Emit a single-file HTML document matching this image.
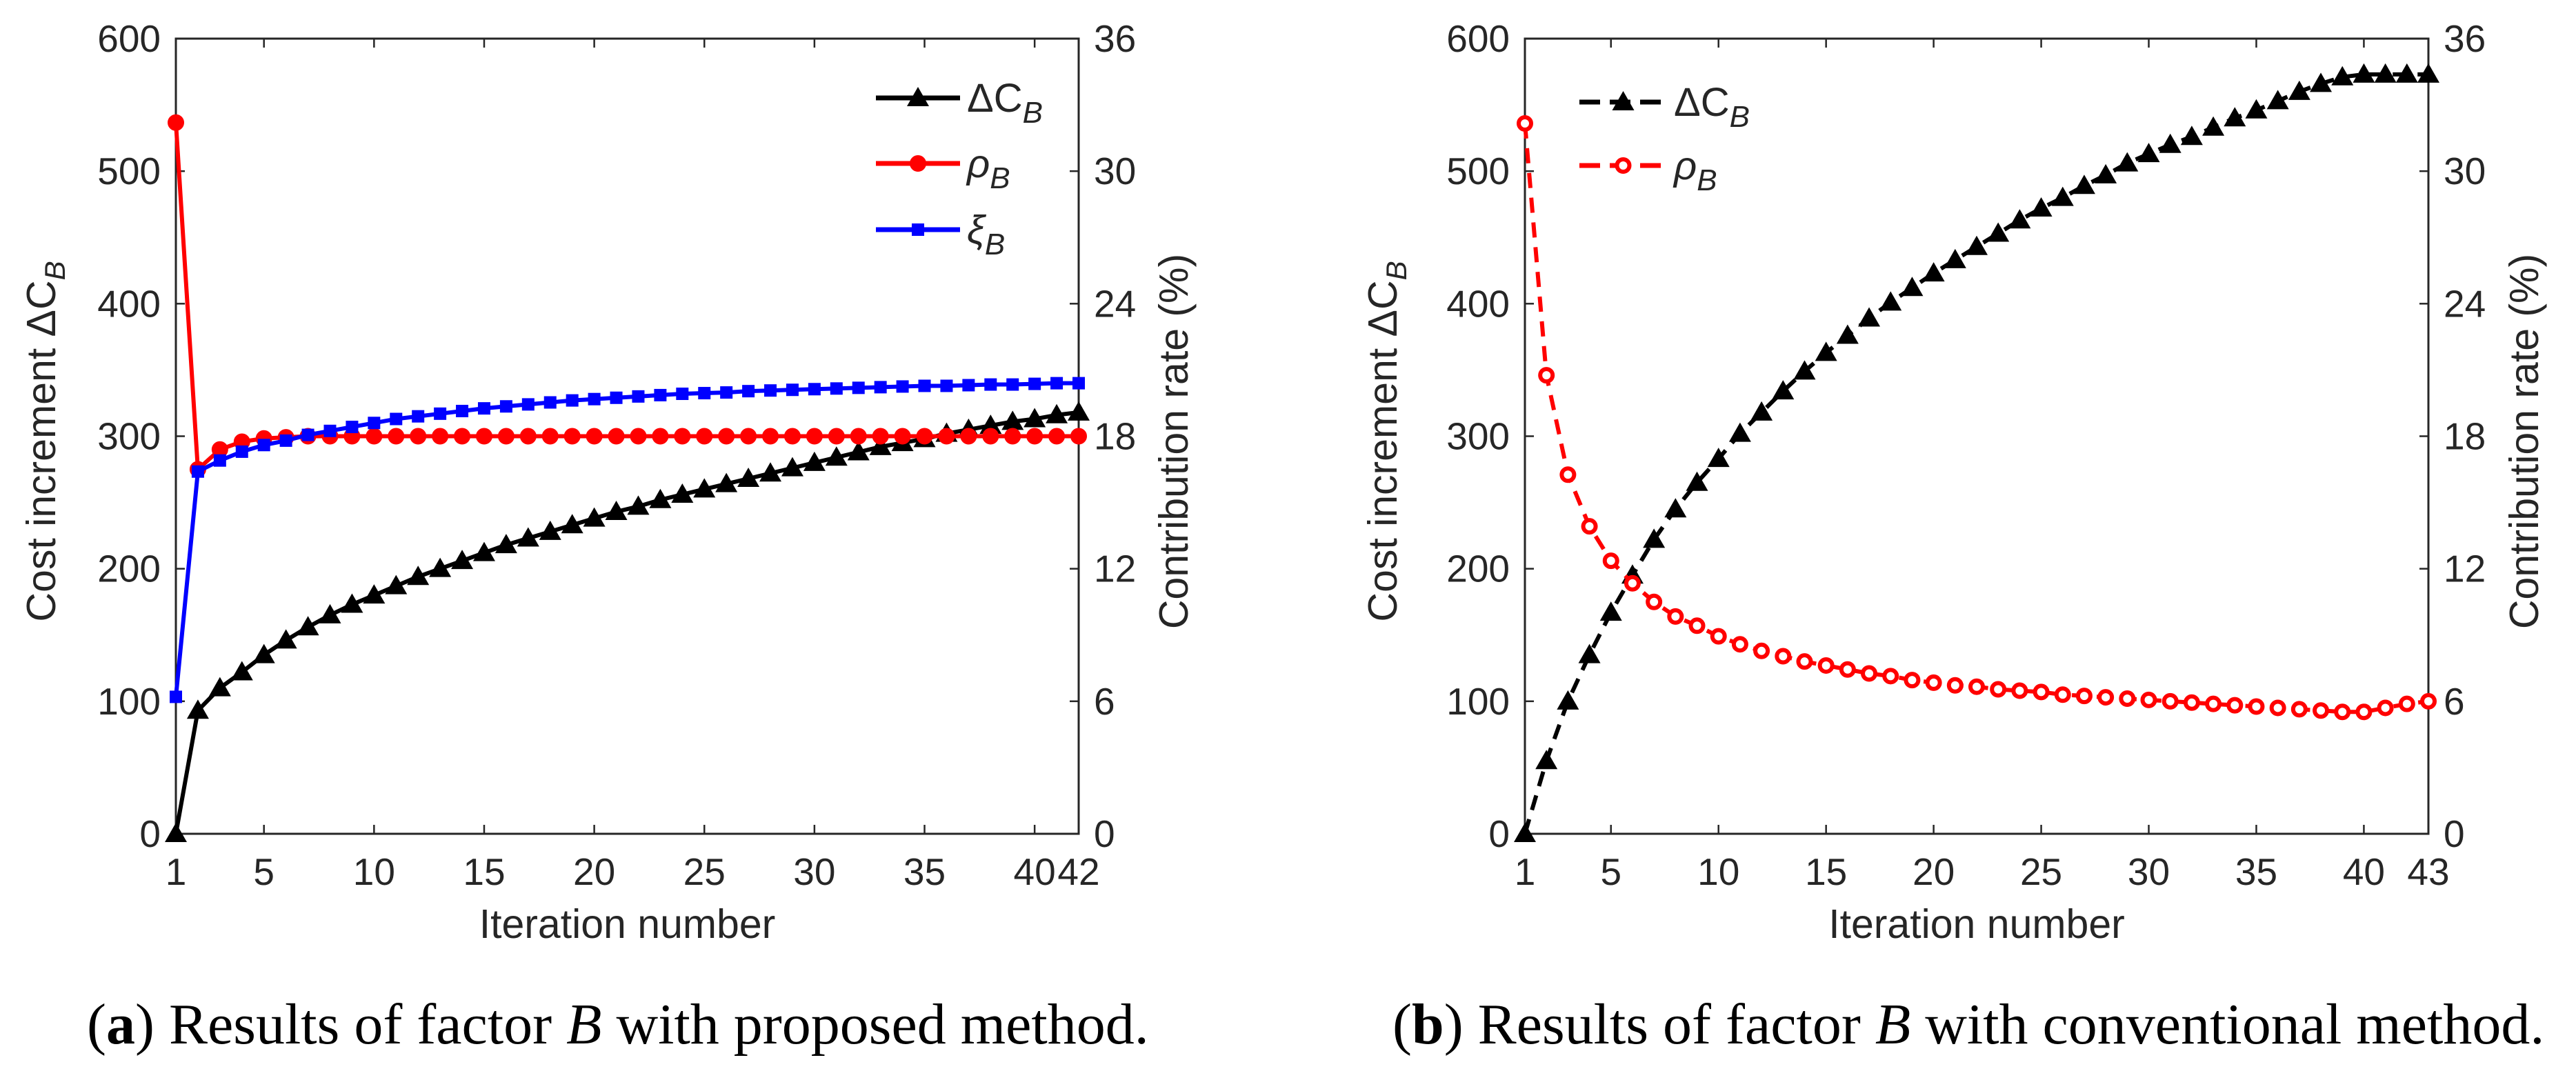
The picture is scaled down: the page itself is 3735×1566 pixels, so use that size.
<!DOCTYPE html>
<html><head><meta charset="utf-8">
<style>
html,body{margin:0;padding:0;background:#fff;}
svg text{font-family:"Liberation Sans",Arial,sans-serif;fill:#262626;}
.cap{font-family:"Liberation Serif","DejaVu Serif",serif;fill:#000;}
</style></head>
<body>
<svg id="fig" width="3735" height="1561" viewBox="0 0 3735 1561" xmlns="http://www.w3.org/2000/svg">
<text class="cap" x="126" y="1513" font-size="84">(<tspan font-weight="bold">a</tspan>) Results of factor <tspan font-style="italic">B</tspan> with proposed method.</text>
<text class="cap" x="2019" y="1513" font-size="84">(<tspan font-weight="bold">b</tspan>) Results of factor <tspan font-style="italic">B</tspan> with conventional method.</text>
</svg>
<script>
// ---- chart (a) data ----
const iterA = Array.from({length:42},(_,i)=>i+1);
const costA = [0,93,110,122,135,146,156,165,173,180,187,194,200,206,212,218,223,228,233,238,243,247,252,256,260,264,268,272,276,280,284,288,292,295,298,302,305,308,311,313,316,318];
const rhoA = [32.2,16.5,17.4,17.75,17.9,17.95,18,18,18,18,18,18,18,18,18,18,18,18,18,18,18,18,18,18,18,18,18,18,18,18,18,18,18,18,18,18,18,18,18,18,18,18];
const xiA = [6.2,16.4,16.9,17.3,17.6,17.8,18.06,18.24,18.42,18.6,18.78,18.9,19.02,19.14,19.26,19.35,19.44,19.53,19.62,19.68,19.74,19.8,19.86,19.92,19.95,19.98,20.04,20.07,20.1,20.13,20.16,20.19,20.22,20.25,20.28,20.28,20.31,20.34,20.34,20.37,20.4,20.4];
const xTicksA = [1,5,10,15,20,25,30,35,40,42];
// ---- chart (b) data ----
const iterB = Array.from({length:43},(_,i)=>i+1);
const costB = [0,55,100,135,167,195,222,245,265,283,302,318,334,349,363,376,389,401,412,423,433,443,453,463,472,480,489,497,506,513,520,526,533,540,546,553,560,566,571,573,573,573,573];
const rhoB = [32.16,20.76,16.26,13.92,12.36,11.34,10.5,9.84,9.42,8.94,8.58,8.28,8.04,7.8,7.62,7.44,7.26,7.14,6.96,6.84,6.72,6.66,6.54,6.48,6.42,6.3,6.24,6.18,6.12,6.06,6.0,5.94,5.88,5.82,5.76,5.7,5.64,5.58,5.52,5.52,5.7,5.88,6.0];
const xTicksB = [1,5,10,15,20,25,30,35,40,43];
const yTicksL = [0,100,200,300,400,500,600];
const yTicksR = [0,6,12,18,24,30,36];

const NS="http://www.w3.org/2000/svg";
const svg=document.getElementById('fig');
function mk(tag,attrs,parent){const e=document.createElementNS(NS,tag);for(const k in attrs)e.setAttribute(k,attrs[k]);(parent||svg).appendChild(e);return e;}

function marker(g,type,x,y,color,open){
  let m;
  if(type==='tri'){m=mk('polygon',{points:`${x-16},${y+12} ${x+16},${y+12} ${x},${y-16}`,fill:color},g);}
  else if(type==='circ'){m=mk('circle',{cx:x,cy:y,r:open?9:11,fill:open?'#fff':color,stroke:color,'stroke-width':open?6:2},g);}
  else {m=mk('rect',{x:x-9,y:y-9,width:18,height:18,fill:color},g);}
  return m;
}

function chart(o){
  const g=mk('g',{});
  
  
  const L=o.L,R=o.R,T=56,B=1209;
  const xs=v=>L+(v-1)/(o.xmax-1)*(R-L);
  const yl=v=>B-v/600*(B-T);
  const yr=v=>B-v/36*(B-T);
  const ax=mk('rect',{x:L,y:T,width:R-L,height:B-T,fill:'none',stroke:'#262626','stroke-width':3},g);
  
  
  o.xt.forEach(t=>{
    const x=xs(t);
    mk('line',{x1:x,y1:B,x2:x,y2:B-13,stroke:'#262626','stroke-width':2.5},g);
    mk('line',{x1:x,y1:T,x2:x,y2:T+13,stroke:'#262626','stroke-width':2.5},g);
    const tx=mk('text',{x:x,y:1283,'font-size':55,'text-anchor':'middle'},g);
    tx.textContent=t;
    
    
  });
  yTicksL.forEach(t=>{
    const y=yl(t);
    mk('line',{x1:L,y1:y,x2:L+13,y2:y,stroke:'#262626','stroke-width':2.5},g);
    const tx=mk('text',{x:L-22,y:y+19,'font-size':55,'text-anchor':'end'},g);
    tx.textContent=t;
    
    
  });
  yTicksR.forEach(t=>{
    const y=yr(t);
    mk('line',{x1:R,y1:y,x2:R-13,y2:y,stroke:'#262626','stroke-width':2.5},g);
    const tx=mk('text',{x:R+22,y:y+19,'font-size':55,'text-anchor':'start'},g);
    tx.textContent=t;
    
    
  });
  const xt=mk('text',{x:(L+R)/2,y:1360,'font-size':59,'text-anchor':'middle'},g);
  xt.textContent='Iteration number';
  
  
  const ylt=mk('text',{x:0,y:0,'font-size':59,'text-anchor':'middle',transform:`translate(${o.ylx},640) rotate(-90)`},g);
  ylt.innerHTML='Cost increment ΔC<tspan font-size="42" dy="14" font-style="italic">B</tspan>';
  
  
  const yrt=mk('text',{x:0,y:0,'font-size':59,'text-anchor':'middle',transform:`translate(${o.yrx},640) rotate(-90)`},g);
  yrt.textContent='Contribution rate (%)';
  
  
  o.series.forEach(s=>{
    const sg=mk('g',{},g);
    
    
    const yf=s.axis==='L'?yl:yr;
    const pts=s.x.map((v,i)=>xs(v)+','+yf(s.y[i])).join(' ');
    mk('polyline',{points:pts,fill:'none',stroke:s.color,'stroke-width':6,'stroke-dasharray':s.dash?'22,14':'none','stroke-linejoin':'round'},sg);
    s.x.forEach((v,i)=>{
      const m=marker(sg,s.marker,xs(v),yf(s.y[i]),s.color,s.open);
      
      
    });
  });
  o.legend.forEach((e,i)=>{
    const lg=mk('g',{},g);
    
    
    const y=e.y;
    mk('line',{x1:o.lx1,y1:y,x2:o.lx2,y2:y,stroke:e.color,'stroke-width':7,'stroke-dasharray':e.dash?'30,14':'none'},lg);
    marker(lg,e.marker,(o.lx1+o.lx2)/2,y,e.color,e.open);
    const t=mk('text',{x:o.lx2+10,y:y+20,'font-size':58},lg);
    t.innerHTML=e.label;
  });
}

chart({name:'chart-a-proposed',L:255,R:1564,xmax:42,xt:xTicksA,ylx:80,yrx:1722,lx1:1270,lx2:1392,
  series:[
    {name:'series-cost-increment',x:iterA,y:costA,axis:'L',color:'#000',marker:'tri'},
    {name:'series-rho',x:iterA,y:rhoA,axis:'R',color:'#ff0000',marker:'circ'},
    {name:'series-xi',x:iterA,y:xiA,axis:'R',color:'#0000ff',marker:'sq'}],
  legend:[
    {y:142,color:'#000',marker:'tri',label:'ΔC<tspan font-style="italic" font-size="44" dy="16">B</tspan>'},
    {y:237,color:'#ff0000',marker:'circ',label:'<tspan font-style="italic">ρ</tspan><tspan font-style="italic" font-size="44" dy="16">B</tspan>'},
    {y:333,color:'#0000ff',marker:'sq',label:'<tspan font-style="italic">ξ</tspan><tspan font-style="italic" font-size="44" dy="16">B</tspan>'}]
});
chart({name:'chart-b-conventional',L:2211,R:3521,xmax:43,xt:xTicksB,ylx:2025,yrx:3680,lx1:2290,lx2:2417,
  series:[
    {name:'series-cost-increment',x:iterB,y:costB,axis:'L',color:'#000',marker:'tri',dash:true},
    {name:'series-rho',x:iterB,y:rhoB,axis:'R',color:'#ff0000',marker:'circ',dash:true,open:true}],
  legend:[
    {y:148,color:'#000',marker:'tri',dash:true,label:'ΔC<tspan font-style="italic" font-size="44" dy="16">B</tspan>'},
    {y:240,color:'#ff0000',marker:'circ',dash:true,open:true,label:'<tspan font-style="italic">ρ</tspan><tspan font-style="italic" font-size="44" dy="16">B</tspan>'}]
});
</script>
</body></html>
